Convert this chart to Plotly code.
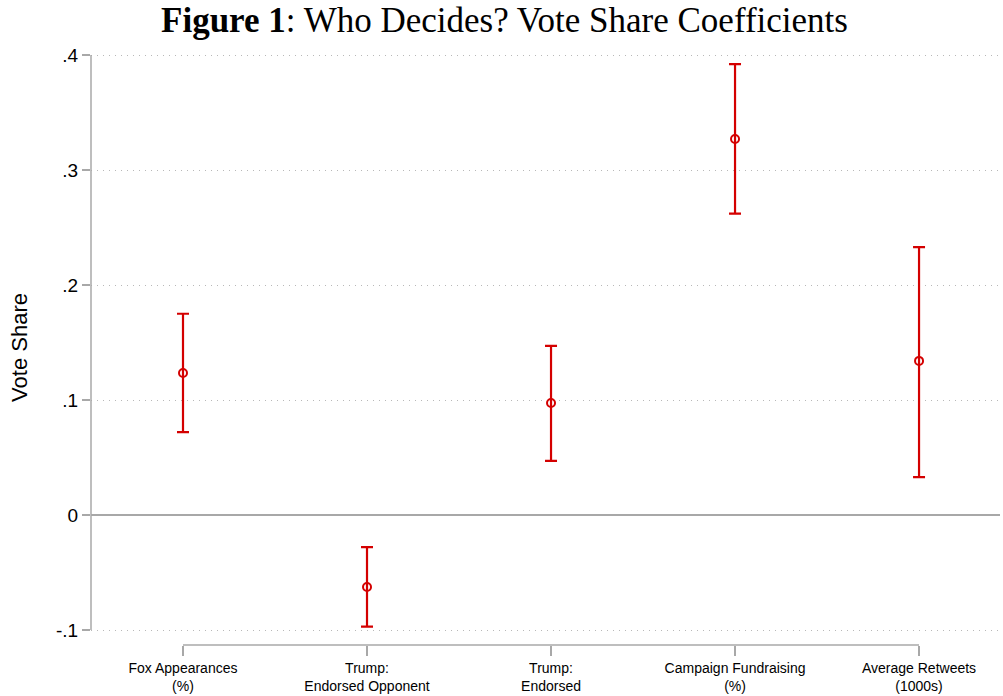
import plotly.graph_objects as go

categories = ["Fox Appearances<br>(%)", "Trump:<br>Endorsed Opponent", "Trump:<br>Endorsed",
              "Campaign Fundraising<br>(%)", "Average Retweets<br>(1000s)"]
coef = [0.1235, -0.0626, 0.0974, 0.327, 0.134]
ci_upper = [0.175, -0.028, 0.147, 0.392, 0.233]
ci_lower = [0.072, -0.097, 0.047, 0.262, 0.033]
ytick_vals = [-0.1, 0, 0.1, 0.2, 0.3, 0.4]
ytick_text = ["-.1", "0", ".1", ".2", ".3", ".4"]

xpos = list(range(1, len(categories) + 1))
red = "#d40000"
gray = "#a8a8a8"

fig = go.Figure()
fig.add_trace(go.Scatter(
    x=xpos, y=coef, mode="markers",
    marker=dict(symbol="circle-open", size=8, color=red, line=dict(width=2, color=red)),
    error_y=dict(type="data", symmetric=False,
                 array=[u - c for u, c in zip(ci_upper, coef)],
                 arrayminus=[c - l for c, l in zip(coef, ci_lower)],
                 color=red, thickness=2.2, width=6),
    showlegend=False,
))

fig.add_shape(type="line", xref="x", yref="paper", x0=xpos[0], x1=xpos[-1], y0=0, y1=0,
              line=dict(color=gray, width=1.5))
fig.add_shape(type="line", xref="paper", yref="y", x0=0, x1=0, y0=ytick_vals[0], y1=ytick_vals[-1],
              line=dict(color=gray, width=1.5))

fig.update_layout(
    width=1003, height=696,
    margin=dict(l=91, r=3, t=50, b=51),
    plot_bgcolor="white", paper_bgcolor="white",
    font=dict(family="Liberation Sans, Arial, sans-serif", color="black"),
    title=dict(text="<b>Figure 1</b>: Who Decides? Vote Share Coefficients",
               x=0.503, xanchor="center", y=0.972, yanchor="middle",
               font=dict(family="Liberation Serif, serif", size=35, color="black")),
    xaxis=dict(range=[0.5, 5.44], tickvals=xpos, ticktext=categories,
               showgrid=False, zeroline=False, showline=False,
               ticks="outside", ticklen=10, tickcolor=gray, tickwidth=1.5,
               tickfont=dict(size=14)),
    yaxis=dict(range=[-0.11304, 0.40435], tickvals=ytick_vals, ticktext=ytick_text,
               showgrid=True, gridcolor="#b8b8b8", griddash="1px,5px", gridwidth=1.2,
               zeroline=True, zerolinecolor=gray, zerolinewidth=1.5,
               showline=False, ticks="outside", ticklen=8, tickcolor=gray, tickwidth=1.5,
               tickfont=dict(size=19),
               title=dict(text="Vote Share", font=dict(size=22), standoff=22)),
)

fig.write_html("out.html", config={"displayModeBar": False},
               post_script="document.body.style.margin='0';document.body.style.padding='0';")
